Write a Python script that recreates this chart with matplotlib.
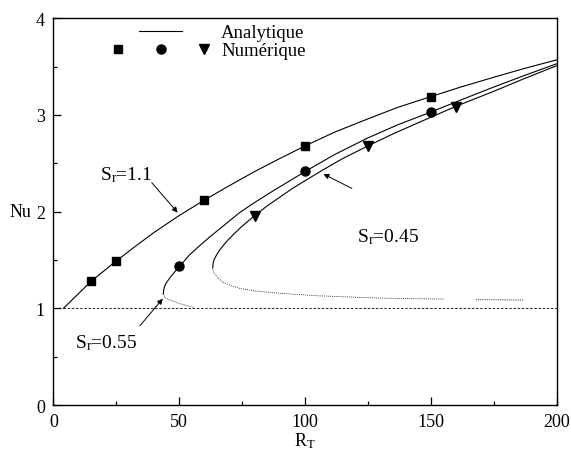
import matplotlib
matplotlib.use("Agg")
import matplotlib.pyplot as plt
from matplotlib.lines import Line2D
from matplotlib.legend_handler import HandlerTuple

plt.rcParams["font.family"] = ["Liberation Serif", "DejaVu Serif"]
plt.rcParams["mathtext.fontset"] = "custom"
plt.rcParams["mathtext.rm"] = "Liberation Serif"
plt.rcParams["mathtext.it"] = "Liberation Serif:italic"

# analytical curves
sr11_x = [4, 7, 10, 15, 20, 25, 32, 40, 50, 60, 70, 80, 90, 100, 112, 125, 137, 150, 162, 175, 187, 200]
sr11_nu = [1.0, 1.076, 1.152, 1.28, 1.385, 1.49, 1.63, 1.785, 1.96, 2.12, 2.27, 2.415, 2.55, 2.68,
           2.825, 2.96, 3.08, 3.19, 3.29, 3.39, 3.48, 3.57]

sr055_x = [43.7, 43.85, 44.2, 44.8, 45.6, 46.6, 48, 50, 54, 58, 62, 66, 70, 74, 80, 87, 94, 100,
           112, 125, 137, 150, 162, 175, 187, 200]
sr055_nu = [1.15, 1.19, 1.225, 1.26, 1.29, 1.325, 1.37, 1.43, 1.55, 1.645, 1.735, 1.82, 1.905, 1.99,
            2.095, 2.21, 2.32, 2.415, 2.594, 2.763, 2.9, 3.03, 3.156, 3.289, 3.407, 3.53]
sr055_low_x = [43.7, 44.4, 47, 50, 53, 55.6]
sr055_low_nu = [1.15, 1.11, 1.08, 1.05, 1.03, 1.01]

sr045_x = [63.3, 63.5, 64, 64.8, 66, 67.5, 69.5, 72, 75, 80, 85, 90, 95, 100, 107, 115, 125, 135,
           145, 160, 175, 187, 200]
sr045_nu = [1.42, 1.47, 1.51, 1.55, 1.60, 1.65, 1.71, 1.775, 1.85, 1.96, 2.06, 2.15, 2.24, 2.32, 2.43,
            2.55, 2.68, 2.805, 2.92, 3.09, 3.245, 3.375, 3.51]
sr045_low_x = [63.3, 63.6, 64.2, 65.5, 67.5, 70.5, 74, 80, 88, 96, 105, 115, 130, 143, 155]
sr045_low_nu = [1.42, 1.38, 1.355, 1.31, 1.27, 1.235, 1.207, 1.18, 1.16, 1.145, 1.13, 1.12, 1.106, 1.10, 1.096]
sr045_low2_x = [168, 178, 187]
sr045_low2_nu = [1.09, 1.088, 1.086]

conduction_x = [4, 200]
conduction_nu = [1.0, 1.0]

# numerical points
sq_x = [15, 25, 60, 100, 150]
sq_nu = [1.28, 1.49, 2.12, 2.675, 3.19]
ci_x = [50, 100, 150]
ci_nu = [1.434, 2.42, 3.03]
tr_x = [80, 125, 160]
tr_nu = [1.96, 2.68, 3.08]

fig = plt.figure(figsize=(5.71, 4.56), dpi=100)
ax = fig.add_axes([0.0934, 0.1096, 0.8816, 0.8481])

lw = 0.8
ax.plot(conduction_x, conduction_nu, color="black", lw=0.6, dashes=(3, 2))
ax.plot(sr11_x, sr11_nu, color="black", lw=lw)
ax.plot(sr055_x, sr055_nu, color="black", lw=lw)
ax.plot(sr045_x, sr045_nu, color="black", lw=lw)
ax.plot(sr055_low_x, sr055_low_nu, color="black", lw=0.6, dashes=(1, 1.5))
ax.plot(sr045_low_x, sr045_low_nu, color="black", lw=0.6, dashes=(1, 1.5))
ax.plot(sr045_low2_x, sr045_low2_nu, color="black", lw=0.6, dashes=(1, 1.2))

ax.plot(sq_x, sq_nu, "s", color="black", ms=5.5, ls="none")
ax.plot(ci_x, ci_nu, "o", color="black", ms=6.5, ls="none")
ax.plot(tr_x, tr_nu, "v", color="black", ms=6.5, ls="none")

arrow = dict(arrowstyle="-|>", color="black", lw=0.7, mutation_scale=8, shrinkA=0, shrinkB=0)
ax.text(18.6, 2.39, r"S$_\mathrm{r}$=1.1", fontsize=14, va="center", ha="left")
ax.annotate("", xy=(49.4, 1.99), xytext=(39.1, 2.30), arrowprops=arrow)
ax.text(120.5, 1.75, r"S$_\mathrm{r}$=0.45", fontsize=14, va="center", ha="left")
ax.annotate("", xy=(107.3, 2.39), xytext=(118.6, 2.24), arrowprops=arrow)
ax.text(8.6, 0.65, r"S$_\mathrm{r}$=0.55", fontsize=14, va="center", ha="left")
ax.annotate("", xy=(43.5, 1.10), xytext=(34.4, 0.82), arrowprops=arrow)

# legend
blank = Line2D([], [], ls="none")
line_h = Line2D([], [], color="black", lw=lw)
sq_h = Line2D([], [], marker="s", color="black", ms=5.5, ls="none")
ci_h = Line2D([], [], marker="o", color="black", ms=6.5, ls="none")
tr_h = Line2D([], [], marker="v", color="black", ms=6.5, ls="none")
ax.legend([(blank, line_h, blank), (sq_h, ci_h, tr_h)], ["Analytique", "Numérique"],
          handler_map={tuple: HandlerTuple(ndivide=None, pad=0)},
          loc="upper left", bbox_to_anchor=(0.0858, 0.985), frameon=False,
          fontsize=13.5, handlelength=6.85, handletextpad=-0.2, labelspacing=0.05,
          borderpad=0, borderaxespad=0)

ax.set_xlim(0, 200)
ax.set_ylim(0, 4)
ax.set_xticks([0, 50, 100, 150, 200])
ax.set_xticks([25, 75, 125, 175], minor=True)
ax.set_yticks([0, 1, 2, 3, 4])
ax.set_yticks([0.5, 1.5, 2.5, 3.5], minor=True)
ax.tick_params(which="both", direction="in", top=False, right=False, labelsize=13)
ax.tick_params(which="major", length=5.5, width=0.9)
ax.tick_params(which="minor", length=3, width=0.9)
ax.tick_params(axis="x", pad=6)
ax.tick_params(axis="y", pad=6)
for s in ax.spines.values():
    s.set_linewidth(1.0)

ax.set_xlabel(r"R$_\mathrm{T}$", fontsize=13, labelpad=0)
ax.set_ylabel("Nu", fontsize=13, rotation=0, va="center", ha="center")
ax.yaxis.set_label_coords(-0.066, 0.5)

fig.savefig("out.png", dpi=100)
